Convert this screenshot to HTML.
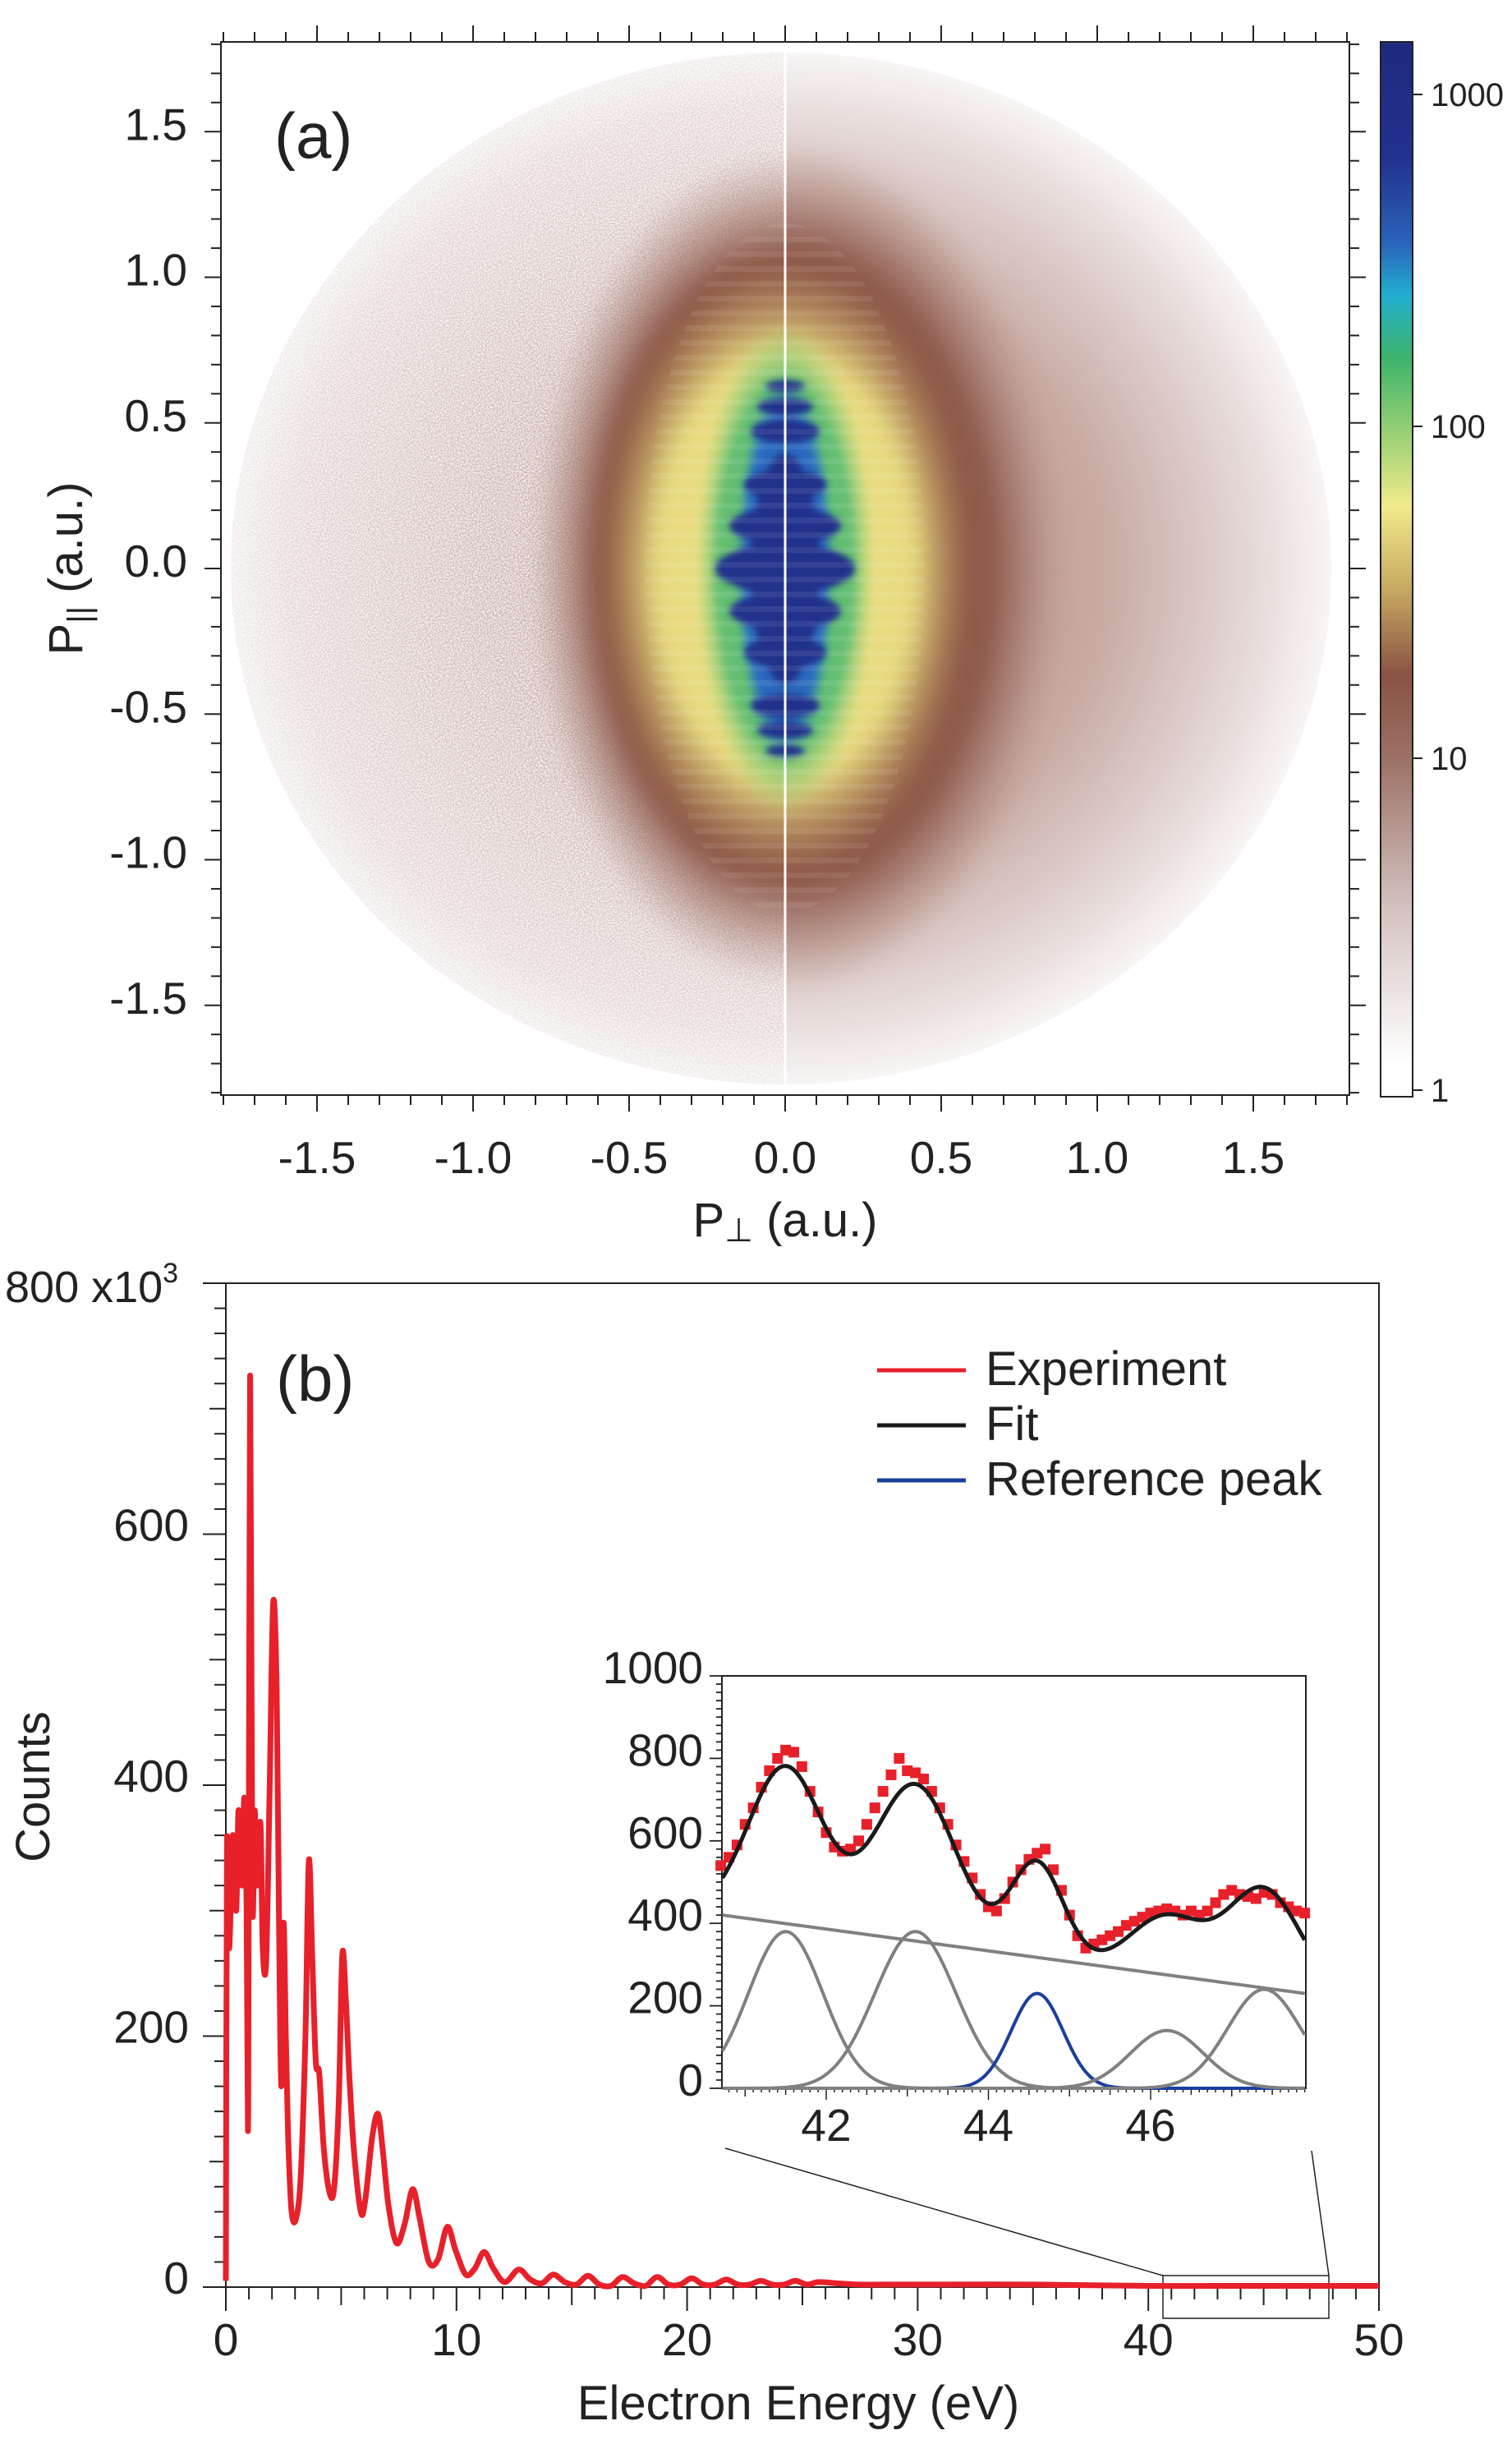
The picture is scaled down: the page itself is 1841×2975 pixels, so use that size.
<!DOCTYPE html>
<html><head><meta charset="utf-8">
<style>
html,body{margin:0;padding:0;background:#fff;}
svg{display:block;font-family:"Liberation Sans",Arial,sans-serif;}
</style></head>
<body>
<svg id="fig" width="1841" height="2975" viewBox="0 0 1841 2975" xmlns="http://www.w3.org/2000/svg">
<defs>
  <filter id="blur8" x="-30%" y="-30%" width="160%" height="160%"><feGaussianBlur stdDeviation="10"/></filter>
  <filter id="blur4" x="-30%" y="-30%" width="160%" height="160%"><feGaussianBlur stdDeviation="4"/></filter>
  <filter id="speck" x="0" y="0" width="100%" height="100%">
    <feTurbulence type="fractalNoise" baseFrequency="0.6" numOctaves="1" seed="3" result="n"/>
    <feColorMatrix in="n" type="matrix" values="0 0 0 0 1  0 0 0 0 1  0 0 0 0 1  0 0 0 -2.2 1.45" result="m"/>
    <feComposite in="m" in2="SourceGraphic" operator="in" result="w"/>
    <feMerge><feMergeNode in="SourceGraphic"/><feMergeNode in="w"/></feMerge>
  </filter>
  <pattern id="stripes" width="20" height="18" patternUnits="userSpaceOnUse">
    <rect x="0" y="0" width="20" height="7" fill="#ffffff" fill-opacity="0.08"/>
  </pattern>
  <radialGradient id="gOuterL" cx="0.5" cy="0.5" r="0.5">
    <stop offset="0" stop-color="#bc978f"/><stop offset="0.55" stop-color="#cfb6b1"/><stop offset="0.9" stop-color="#e2d5d3"/><stop offset="1" stop-color="#f2ecec"/>
  </radialGradient>
  <radialGradient id="gOuterR" cx="0.5" cy="0.5" r="0.5">
    <stop offset="0" stop-color="#a87a70"/><stop offset="0.6" stop-color="#c9aca6"/><stop offset="0.88" stop-color="#e7dddb"/><stop offset="1" stop-color="#f8f5f5"/>
  </radialGradient>
  <radialGradient id="gBrown" cx="0.5" cy="0.5" r="0.5">
    <stop offset="0" stop-color="#8d5747"/><stop offset="0.74" stop-color="#8f5a4a"/><stop offset="1" stop-color="#a98178" stop-opacity="0"/>
  </radialGradient>
  <radialGradient id="gYellow" cx="0.5" cy="0.5" r="0.5">
    <stop offset="0" stop-color="#eee487"/><stop offset="0.7" stop-color="#e6d97e"/><stop offset="1" stop-color="#c9a560" stop-opacity="0"/>
  </radialGradient>
  <radialGradient id="gGreen" cx="0.5" cy="0.5" r="0.5">
    <stop offset="0" stop-color="#4fb46e"/><stop offset="0.75" stop-color="#66bf72"/><stop offset="1" stop-color="#a8d67a" stop-opacity="0"/>
  </radialGradient>
  <radialGradient id="gBlue" cx="0.5" cy="0.5" r="0.5">
    <stop offset="0" stop-color="#2553b0"/><stop offset="0.8" stop-color="#2a6cc0"/><stop offset="1" stop-color="#2a8ac0" stop-opacity="0"/>
  </radialGradient>
  <linearGradient id="gBar" x1="0" y1="0" x2="0" y2="1">
    <stop offset="0" stop-color="#1e2a7e"/><stop offset="0.11" stop-color="#22318f"/>
    <stop offset="0.19" stop-color="#2a63b8"/><stop offset="0.24" stop-color="#22aed0"/>
    <stop offset="0.30" stop-color="#3cb46a"/><stop offset="0.37" stop-color="#98cf74"/>
    <stop offset="0.44" stop-color="#f1ea8a"/><stop offset="0.52" stop-color="#c5a761"/>
    <stop offset="0.60" stop-color="#8a5343"/><stop offset="0.68" stop-color="#9c7166"/>
    <stop offset="0.82" stop-color="#d3c2bf"/><stop offset="0.97" stop-color="#ffffff"/>
    <stop offset="1" stop-color="#ffffff"/>
  </linearGradient>
  <clipPath id="clipL"><rect x="269" y="51" width="687" height="1282"/></clipPath>
  <clipPath id="clipR"><rect x="956" y="51" width="687" height="1282"/></clipPath>
</defs>

<!-- Panel (a) heatmap -->
<g id="heatmap">
  <g clip-path="url(#clipL)">
    <g filter="url(#speck)">
      <ellipse cx="956" cy="692" rx="675" ry="628" fill="url(#gOuterL)"/>
    </g>
    <ellipse cx="956" cy="692" rx="310" ry="510" fill="url(#gBrown)" filter="url(#blur8)"/>
    <ellipse cx="956" cy="692" rx="225" ry="370" fill="url(#gYellow)" filter="url(#blur8)"/>
    <ellipse cx="956" cy="692" rx="110" ry="300" fill="url(#gGreen)" filter="url(#blur4)"/>
    <ellipse cx="956" cy="692" rx="60" ry="235" fill="url(#gBlue)" filter="url(#blur4)"/>
  </g>
  <g clip-path="url(#clipR)">
    <ellipse cx="956" cy="692" rx="665" ry="628" fill="url(#gOuterR)"/>
    <ellipse cx="956" cy="692" rx="340" ry="520" fill="url(#gBrown)" filter="url(#blur8)"/>
    <ellipse cx="956" cy="692" rx="225" ry="370" fill="url(#gYellow)" filter="url(#blur8)"/>
    <ellipse cx="956" cy="692" rx="110" ry="300" fill="url(#gGreen)" filter="url(#blur4)"/>
    <ellipse cx="956" cy="692" rx="60" ry="235" fill="url(#gBlue)" filter="url(#blur4)"/>
  </g>
  <g fill="#21308c" filter="url(#blur4)">
    <ellipse cx="956" cy="692" rx="42" ry="140"/>
    <ellipse cx="956" cy="692" rx="85" ry="30"/>
    <ellipse cx="956" cy="640" rx="68" ry="22"/>
    <ellipse cx="956" cy="744" rx="68" ry="22"/>
    <ellipse cx="956" cy="590" rx="50" ry="18"/>
    <ellipse cx="956" cy="794" rx="50" ry="18"/>
    <ellipse cx="956" cy="525" rx="42" ry="14"/>
    <ellipse cx="956" cy="859" rx="42" ry="14"/>
    <ellipse cx="956" cy="495" rx="34" ry="10"/>
    <ellipse cx="956" cy="889" rx="34" ry="10"/>
    <ellipse cx="956" cy="470" rx="24" ry="7"/>
    <ellipse cx="956" cy="914" rx="24" ry="7"/>
  </g>
  <ellipse cx="956" cy="692" rx="170" ry="420" fill="url(#stripes)"/>
  <line x1="956" y1="62" x2="956" y2="1326" stroke="#ffffff" stroke-width="3"/>
</g>
<rect x="269" y="51" width="1374" height="1282" fill="none" stroke="#222" stroke-width="2"/>
<text x="334" y="192" font-size="78" fill="#222">(a)</text>
<text x="956" y="1505" font-size="58" text-anchor="middle" fill="#222">P<tspan font-size="40" dy="6">⊥</tspan><tspan dy="-6"> (a.u.)</tspan></text>
<text transform="translate(100,692) rotate(-90)" font-size="58" text-anchor="middle" fill="#222">P<tspan font-size="40" dy="10">||</tspan><tspan dy="-10"> (a.u.)</tspan></text>

<!-- colorbar -->
<rect x="1681" y="51" width="39" height="1284" fill="url(#gBar)" stroke="#222" stroke-width="2"/>

<!-- Panel (b) -->
<rect x="275" y="1562" width="1404" height="1222" fill="none" stroke="#222" stroke-width="2"/>
<text x="336" y="1705" font-size="78" fill="#222">(b)</text>
<text x="6" y="1585" font-size="54" fill="#222">800 x10<tspan font-size="34" dy="-24">3</tspan></text>
<text transform="translate(60,2175) rotate(-90)" font-size="58" text-anchor="middle" fill="#222">Counts</text>
<text x="972" y="2945" font-size="58" text-anchor="middle" fill="#222">Electron Energy (eV)</text>

<g>
  <line x1="1068" y1="1668" x2="1176" y2="1668" stroke="#e8202a" stroke-width="5"/>
  <text x="1200" y="1686" font-size="58" fill="#222">Experiment</text>
  <line x1="1068" y1="1735" x2="1176" y2="1735" stroke="#1a1a1a" stroke-width="5"/>
  <text x="1200" y="1753" font-size="58" fill="#222">Fit</text>
  <line x1="1068" y1="1802" x2="1176" y2="1802" stroke="#1c3f9e" stroke-width="5"/>
  <text x="1200" y="1820" font-size="58" fill="#222">Reference peak</text>
</g>

<!-- zoom indicator -->
<rect x="1416" y="2770" width="202" height="52" fill="none" stroke="#222" stroke-width="1.5"/>
<line x1="883" y1="2615" x2="1416" y2="2770" stroke="#222" stroke-width="1.5"/>
<line x1="1597" y1="2618" x2="1618" y2="2770" stroke="#222" stroke-width="1.5"/>

<rect x="879" y="2040" width="711" height="502" fill="#fff" stroke="#222" stroke-width="2"/>
<g id="dyn"></g>
</svg>

<script>
// ---- Panel (b) main spectrum data (energy eV, counts x10^3) ----
const specEnergy = [0,0.05,0.15,0.3,0.45,0.55,0.7,0.8,0.9,0.97,1.05,1.15,1.25,1.35,1.5,1.6,1.75,1.9,2.05,2.2,2.3,2.4,2.5,2.6,2.7,2.85,3.05,3.25,3.45,3.6,3.75,3.9,4.05,4.25,4.5,4.7,4.9,5.05,5.2,5.35,5.55,5.85,6.05,6.35,6.6,6.8,7.05,7.4,7.75,8.1,8.4,8.8,9.2,9.6,9.95,10.4,10.8,11.2,11.6,12.1,12.7,13.2,13.7,14.2,14.7,15.2,15.7,16.2,16.7,17.2,17.7,18.2,18.7,19.2,19.7,20.2,20.7,21.2,21.7,22.2,22.7,23.2,23.7,24.2,24.7,25.2,25.7,26.5,27.5,28.5,30,35,40,45,50];
const specCounts = [5,350,270,360,300,380,320,390,300,140,725,310,380,320,370,270,260,400,545,480,300,160,290,200,120,60,55,90,200,340,260,180,170,110,75,80,150,265,230,170,110,60,70,120,138,110,65,35,50,78,55,20,22,48,30,10,15,28,15,4,14,6,3,10,4,2,9,2,1,8,3,1,8,2,2,7,2,2,6,2,2,5,2,2,5,2,4,3,2,2,2,2,1,1,1];
const specXTicks = [0,10,20,30,40,50];
const specYTicks = [0,200,400,600];

// ---- Inset data ----
const insetEnergy = [40.7,40.8,40.9,41.0,41.1,41.2,41.3,41.4,41.5,41.6,41.7,41.8,41.9,42.0,42.1,42.2,42.3,42.4,42.5,42.6,42.7,42.8,42.9,43.0,43.1,43.2,43.3,43.4,43.5,43.6,43.7,43.8,43.9,44.0,44.1,44.2,44.3,44.4,44.5,44.6,44.7,44.8,44.9,45.0,45.1,45.2,45.3,45.4,45.5,45.6,45.7,45.8,45.9,46.0,46.1,46.2,46.3,46.4,46.5,46.6,46.7,46.8,46.9,47.0,47.1,47.2,47.3,47.4,47.5,47.6,47.7,47.8,47.9];
const insetCounts = [540,560,590,640,680,730,770,800,820,815,780,720,670,620,585,575,580,600,640,680,720,760,800,770,765,750,720,680,640,590,550,510,470,440,430,460,500,530,555,570,580,530,480,420,370,340,350,360,370,380,395,405,415,425,430,435,430,420,430,420,430,450,470,480,470,465,460,475,470,450,440,430,425];
const peakCenters = [41.5,43.1,44.6,46.2,47.4];
const peakHeights = [380,380,230,140,240];
const peakSigmas = [0.46,0.5,0.32,0.45,0.45];
const refPeakIndex = 2;
const bgStartValue = 420;
const bgEndValue = 230;
const insetXTicks = [42,44,46];
const insetYTicks = [0,200,400,600,800,1000];

// ---- Panel (a) ticks ----
const aTickLabels = ["-1.5","-1.0","-0.5","0.0","0.5","1.0","1.5"];
const aTickValues = [-1.5,-1.0,-0.5,0,0.5,1.0,1.5];
const cbTickValues = [1,10,100,1000];

const NS = "http://www.w3.org/2000/svg";
const root = document.getElementById('dyn');
function mk(tag, attrs) {
  const el = document.createElementNS(NS, tag);
  for (const k in attrs) el.setAttribute(k, attrs[k]);
  root.appendChild(el);
  return el;
}
// axis functions
const aX = v => 956 + v * 380;
const aY = v => 692 - v * 354.5;
const cbY = v => 1327 - Math.log10(v) * 404;
const bX = v => 275 + v * 28.08;
const bY = v => 2784 - v * 1.5275;
const iX = v => 1006 + (v - 42) * 98.75;
const iY = v => 2542 - v * 0.502;

function smoothPath(pts) {
  let d = 'M' + pts[0][0].toFixed(1) + ',' + pts[0][1].toFixed(1);
  for (let i = 0; i < pts.length - 1; i++) {
    const p0 = pts[Math.max(0, i - 1)], p1 = pts[i], p2 = pts[i + 1], p3 = pts[Math.min(pts.length - 1, i + 2)];
    const c1x = p1[0] + (p2[0] - p0[0]) / 6, c1y = p1[1] + (p2[1] - p0[1]) / 6;
    const c2x = p2[0] - (p3[0] - p1[0]) / 6, c2y = p2[1] - (p3[1] - p1[1]) / 6;
    d += ' C' + c1x.toFixed(1) + ',' + c1y.toFixed(1) + ' ' + c2x.toFixed(1) + ',' + c2y.toFixed(1) + ' ' + p2[0].toFixed(1) + ',' + p2[1].toFixed(1);
  }
  return d;
}

// Panel (a) ticks
for (let i = -18; i <= 18; i++) {
  const v = i / 10;
  const major = (i % 5 === 0);
  const L = major ? 20 : 12;
  let t;
  t = mk('line', {x1: aX(v), y1: 1333, x2: aX(v), y2: 1333 + L, stroke: '#222', 'stroke-width': 2});
  
  
  t = mk('line', {x1: aX(v), y1: 51, x2: aX(v), y2: 51 - L, stroke: '#222', 'stroke-width': 2});
  
  
  t = mk('line', {x1: 269, y1: aY(v), x2: 269 - L, y2: aY(v), stroke: '#222', 'stroke-width': 2});
  
  
  t = mk('line', {x1: 1643, y1: aY(v), x2: 1643 + L, y2: aY(v), stroke: '#222', 'stroke-width': 2});
  
  
}
aTickValues.forEach((v, k) => {
  let t = mk('text', {x: aX(v), y: 1428, 'font-size': 55, 'text-anchor': 'middle', fill: '#222'});
  t.textContent = aTickLabels[k];
  
  
  t = mk('text', {x: 228, y: aY(v) + 10, 'font-size': 55, 'text-anchor': 'end', fill: '#222'});
  t.textContent = aTickLabels[k];
  
  
});
cbTickValues.forEach(v => {
  let t = mk('line', {x1: 1720, y1: cbY(v), x2: 1732, y2: cbY(v), stroke: '#222', 'stroke-width': 2});
  
  
  t = mk('text', {x: 1742, y: cbY(v) + 14, 'font-size': 40, fill: '#222'});
  t.textContent = String(v);
  
  
});

// Panel (b) ticks
for (let e = 0; e <= 50; e++) {
  const L = (e % 10 === 0) ? 29 : (e % 5 === 0 ? 22 : 15);
  const t = mk('line', {x1: bX(e), y1: 2784, x2: bX(e), y2: 2784 + L, stroke: '#222', 'stroke-width': 2});
  
  
}
for (let c = 0; c <= 800; c += 20) {
  const L = (c % 200 === 0) ? 28 : (c % 100 === 0 ? 20 : 14);
  const t = mk('line', {x1: 275, y1: bY(c), x2: 275 - L, y2: bY(c), stroke: '#222', 'stroke-width': 2});
  
  
}
specXTicks.forEach(v => {
  const t = mk('text', {x: bX(v), y: 2867, 'font-size': 55, 'text-anchor': 'middle', fill: '#222'});
  t.textContent = String(v);
  
  
});
specYTicks.forEach(v => {
  const t = mk('text', {x: 230, y: bY(v) + 8, 'font-size': 55, 'text-anchor': 'end', fill: '#222'});
  t.textContent = String(v);
  
  
});
const specPts = specEnergy.map((e, i) => [bX(e), bY(specCounts[i])]);
const spec = mk('path', {d: smoothPath(specPts), fill: 'none', stroke: '#e8202a', 'stroke-width': 7, 'stroke-linejoin': 'round'});



// Inset ticks
for (let c = 0; c <= 1000; c += 20) {
  const L = (c % 200 === 0) ? 15 : 7;
  const t = mk('line', {x1: 879, y1: iY(c), x2: 879 - L, y2: iY(c), stroke: '#222', 'stroke-width': 1.8});
  
  
}
for (let k = 408; k <= 479; k++) {
  const e = k / 10;
  const L = (k % 10 === 0) ? (k % 20 === 0 ? 14 : 10) : (k % 5 === 0 ? 8 : 5);
  const t = mk('line', {x1: iX(e), y1: 2542, x2: iX(e), y2: 2542 + L, stroke: '#222', 'stroke-width': 1.5});
  
  
}
insetXTicks.forEach(v => {
  const t = mk('text', {x: iX(v), y: 2606, 'font-size': 55, 'text-anchor': 'middle', fill: '#222'});
  t.textContent = String(v);
  
  
});
insetYTicks.forEach(v => {
  const t = mk('text', {x: 856, y: iY(v) + 9, 'font-size': 55, 'text-anchor': 'end', fill: '#222'});
  t.textContent = String(v);
  
  
});

// Inset curves
const E0 = 40.72, E1 = 47.9;
const bg = e => bgStartValue + (bgEndValue - bgStartValue) * (e - E0) / (E1 - E0);
const gauss = (e, k) => peakHeights[k] * Math.exp(-Math.pow(e - peakCenters[k], 2) / (2 * peakSigmas[k] * peakSigmas[k]));
const grid = [];
for (let e = E0; e <= E1 + 1e-9; e += 0.02) grid.push(e);

const bgLine = mk('polyline', {points: grid.map(e => iX(e).toFixed(1) + ',' + iY(bg(e)).toFixed(1)).join(' '), fill: 'none', stroke: '#808080', 'stroke-width': 4});



peakCenters.forEach((c, k) => {
  const ref = (k === refPeakIndex);
  const p = mk('polyline', {points: grid.map(e => iX(e).toFixed(1) + ',' + iY(gauss(e, k)).toFixed(1)).join(' '), fill: 'none', stroke: ref ? '#1c3f9e' : '#808080', 'stroke-width': 4});
  
  
});

insetEnergy.forEach((e, i) => {
  const s = mk('rect', {x: iX(e) - 6.5, y: iY(insetCounts[i]) - 6.5, width: 13, height: 13, fill: '#e8202a'});
  
  
});

const fit = mk('polyline', {points: grid.map(e => {
  let v = bg(e);
  for (let k = 0; k < peakCenters.length; k++) v += gauss(e, k);
  return iX(e).toFixed(1) + ',' + iY(v).toFixed(1);
}).join(' '), fill: 'none', stroke: '#1a1a1a', 'stroke-width': 5});


</script>
</body></html>
